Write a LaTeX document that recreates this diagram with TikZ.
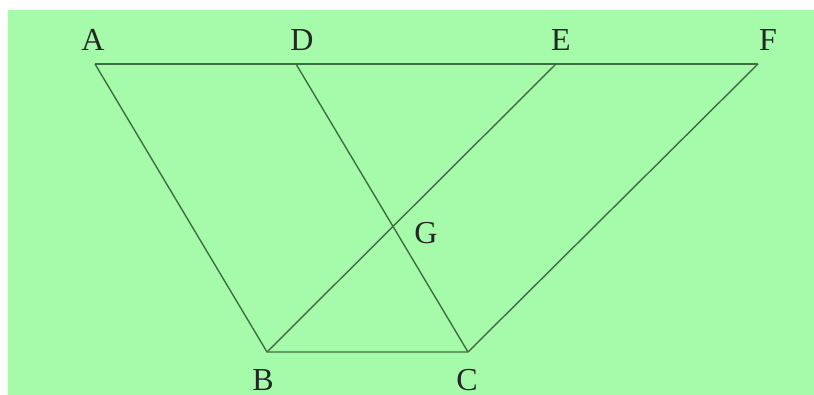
\documentclass[tikz,border=0pt]{standalone}
\usepackage{fontspec}
\setmainfont{Liberation Serif}
\usepackage{tikz}
\usetikzlibrary{positioning}

\definecolor{bggreen}{HTML}{A5FBAA}
\definecolor{linegreen}{HTML}{3F6E43}

\begin{document}
\begin{tikzpicture}[
    x = 1pt, y = -1pt, % pixel units, y downwards
    semithick % line style
    ]

    \tikzset{seg/.style={
    draw = linegreen,
    line width = 1.4pt,
    line join = round
    },
    lbl/.style={
    inner sep = 0pt,
    font = \fontsize{32}{36}\selectfont,
    text = black!85
    }}
    \useasboundingbox (0,0) rectangle (814,395);
    \fill[bggreen] (8,10) rectangle (814,395);

    \coordinate (A) at (95,64);
    \coordinate (D) at (296,64);
    \coordinate (E) at (556,64);
    \coordinate (F) at (758,64);
    \coordinate (B) at (267,352);
    \coordinate (C) at (468,352);
    \coordinate (G) at (intersection of D--C and E--B);

    \path[seg] (A) -- (F);
    \path[seg] (A) -- (B) -- (C) -- (F);
    \path[seg] (D) -- (C);
    \path[seg] (E) -- (B);

    \node[lbl] (lA) at (93,40) {A};
    \node[lbl] (lD) at (302,40) {D};
    \node[lbl] (lE) at (561,40) {E};
    \node[lbl] (lF) at (768,40) {F};
    \node[lbl] (lB) at (263,380) {B};
    \node[lbl] (lC) at (467,380) {C};
    \node[lbl] (lG) at (426,233) {G};
\end{tikzpicture}
\end{document}
